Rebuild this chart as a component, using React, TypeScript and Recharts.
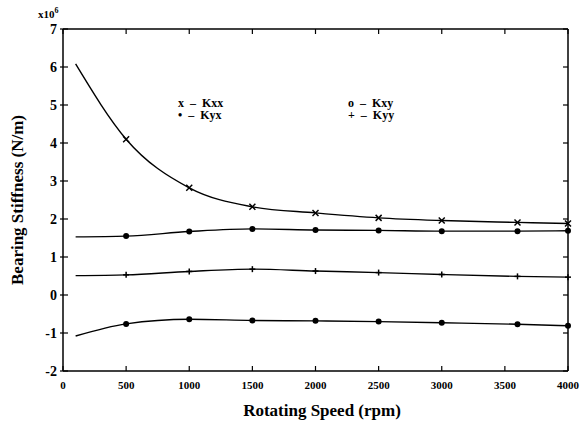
import React from "react";
import { LineChart, Line, XAxis, YAxis } from "recharts";

// rotating speed (rpm)
const speeds = [100, 500, 1000, 1500, 2000, 2500, 3000, 3600, 4000];
// stiffness values in units of 1e6 N/m
const kxx = [6.08, 4.1, 2.82, 2.32, 2.16, 2.03, 1.96, 1.91, 1.88];
const kxy = [1.53, 1.55, 1.67, 1.74, 1.71, 1.7, 1.68, 1.68, 1.69];
const kyy = [0.51, 0.53, 0.62, 0.68, 0.63, 0.59, 0.54, 0.49, 0.47];
const kyx = [-1.08, -0.76, -0.64, -0.67, -0.68, -0.7, -0.73, -0.77, -0.81];

const xTicks = [0, 500, 1000, 1500, 2000, 2500, 3000, 3500, 4000];
const yTicks = [-2, -1, 0, 1, 2, 3, 4, 5, 6, 7];

const data = speeds.map((s, i) => ({
  speed: s,
  kxx: kxx[i],
  kxy: kxy[i],
  kyy: kyy[i],
  kyx: kyx[i],
}));

const FONT = "'Liberation Serif', 'DejaVu Serif', serif";
const TICK = 5;

const BottomTick = (p: any) => (
  <g>
    <line x1={p.x} x2={p.x} y1={p.y} y2={p.y - TICK} stroke="#000" strokeWidth={1.2} />
    <text x={p.x} y={p.y + 18} textAnchor="middle" fontFamily={FONT} fontWeight="bold" fontSize={11} fill="#000">
      {p.payload.value}
    </text>
  </g>
);

const TopTick = (p: any) => (
  <line x1={p.x} x2={p.x} y1={p.y} y2={p.y + TICK} stroke="#000" strokeWidth={1.2} />
);

const LeftTick = (p: any) => (
  <g>
    <line x1={p.x - 3} x2={p.x + TICK} y1={p.y} y2={p.y} stroke="#000" strokeWidth={1.2} />
    <text x={p.x - 6} y={p.y + 5} textAnchor="end" fontFamily={FONT} fontWeight="bold" fontSize={14} fill="#000">
      {p.payload.value}
    </text>
  </g>
);

const RightTick = (p: any) => (
  <line x1={p.x} x2={p.x - TICK} y1={p.y} y2={p.y} stroke="#000" strokeWidth={1.2} />
);

const makeDot = (shape: string) => (props: any) => {
  const { cx, cy, index, payload } = props;
  const key = `${shape}-${index}`;
  if (payload.speed === 100) return <g key={key} />;
  if (shape === "cross") {
    return (
      <g key={key} stroke="#000" strokeWidth={1.5}>
        <line x1={cx - 3} x2={cx + 3} y1={cy - 3} y2={cy + 3} />
        <line x1={cx - 3} x2={cx + 3} y1={cy + 3} y2={cy - 3} />
      </g>
    );
  }
  if (shape === "plus") {
    return (
      <g key={key} stroke="#000" strokeWidth={1.5}>
        <line x1={cx - 3} x2={cx + 3} y1={cy} y2={cy} />
        <line x1={cx} x2={cx} y1={cy - 3} y2={cy + 3} />
      </g>
    );
  }
  return <circle key={key} cx={cx} cy={cy} r={3} fill="#000" />;
};

const legendStyle: React.CSSProperties = {
  position: "absolute",
  fontFamily: FONT,
  fontWeight: "bold",
  fontSize: 12,
  lineHeight: "12px",
  whiteSpace: "pre",
};

export default function App() {
  return (
    <div style={{ position: "absolute", left: 0, top: 0, width: 580, height: 429, background: "#fff" }}>
      <LineChart width={580} height={429} data={data} margin={{ top: 28, right: 11, left: 0, bottom: 0 }}>
        <XAxis
          dataKey="speed"
          type="number"
          domain={[0, 4000]}
          ticks={xTicks}
          height={58}
          tickSize={0}
          tickMargin={0}
          tickLine={false}
          stroke="#000"
          strokeWidth={1.5}
          tick={<BottomTick />}
          interval={0}
        />
        <XAxis
          xAxisId="top"
          dataKey="speed"
          orientation="top"
          type="number"
          domain={[0, 4000]}
          ticks={xTicks}
          height={1}
          tickSize={0}
          tickMargin={0}
          tickLine={false}
          stroke="#000"
          strokeWidth={1.5}
          tick={<TopTick />}
          interval={0}
        />
        <YAxis
          type="number"
          domain={[-2, 7]}
          ticks={yTicks}
          width={63}
          tickSize={0}
          tickMargin={0}
          tickLine={false}
          stroke="#000"
          strokeWidth={1.5}
          tick={<LeftTick />}
          interval={0}
        />
        <YAxis
          yAxisId="right"
          orientation="right"
          type="number"
          domain={[-2, 7]}
          ticks={yTicks}
          width={1}
          tickSize={0}
          tickMargin={0}
          tickLine={false}
          stroke="#000"
          strokeWidth={1.5}
          tick={<RightTick />}
          interval={0}
        />
        <Line type="monotone" dataKey="kxx" stroke="#000" strokeWidth={1.4} dot={makeDot("cross")} isAnimationActive={false} />
        <Line type="monotone" dataKey="kxy" stroke="#000" strokeWidth={1.4} dot={makeDot("circle")} isAnimationActive={false} />
        <Line type="monotone" dataKey="kyy" stroke="#000" strokeWidth={1.4} dot={makeDot("plus")} isAnimationActive={false} />
        <Line type="monotone" dataKey="kyx" stroke="#000" strokeWidth={1.4} dot={makeDot("dot")} isAnimationActive={false} />
        {/* invisible series that binds the top and right frame axes */}
        <Line
          xAxisId="top"
          yAxisId="right"
          dataKey="kyy"
          stroke="none"
          dot={false}
          activeDot={false}
          legendType="none"
          isAnimationActive={false}
        />
      </LineChart>

      <div style={{ position: "absolute", left: 38, top: 6, fontFamily: FONT, fontWeight: "bold", fontSize: 11 }}>
        x10<sup style={{ fontSize: 8 }}>6</sup>
      </div>

      <div style={{ ...legendStyle, left: 178, top: 97 }}>{"x  –  Kxx\n•  –  Kyx"}</div>
      <div style={{ ...legendStyle, left: 348, top: 97 }}>{"o  –  Kxy\n+  –  Kyy"}</div>

      <div
        style={{
          position: "absolute",
          left: 18,
          top: 200,
          transform: "translate(-50%, -50%) rotate(-90deg)",
          fontFamily: FONT,
          fontWeight: "bold",
          fontSize: 17,
          whiteSpace: "nowrap",
        }}
      >
        Bearing Stiffness (N/m)
      </div>
      <div
        style={{
          position: "absolute",
          left: 322,
          top: 411,
          transform: "translate(-50%, -50%)",
          fontFamily: FONT,
          fontWeight: "bold",
          fontSize: 17,
          whiteSpace: "nowrap",
        }}
      >
        Rotating Speed (rpm)
      </div>
    </div>
  );
}
